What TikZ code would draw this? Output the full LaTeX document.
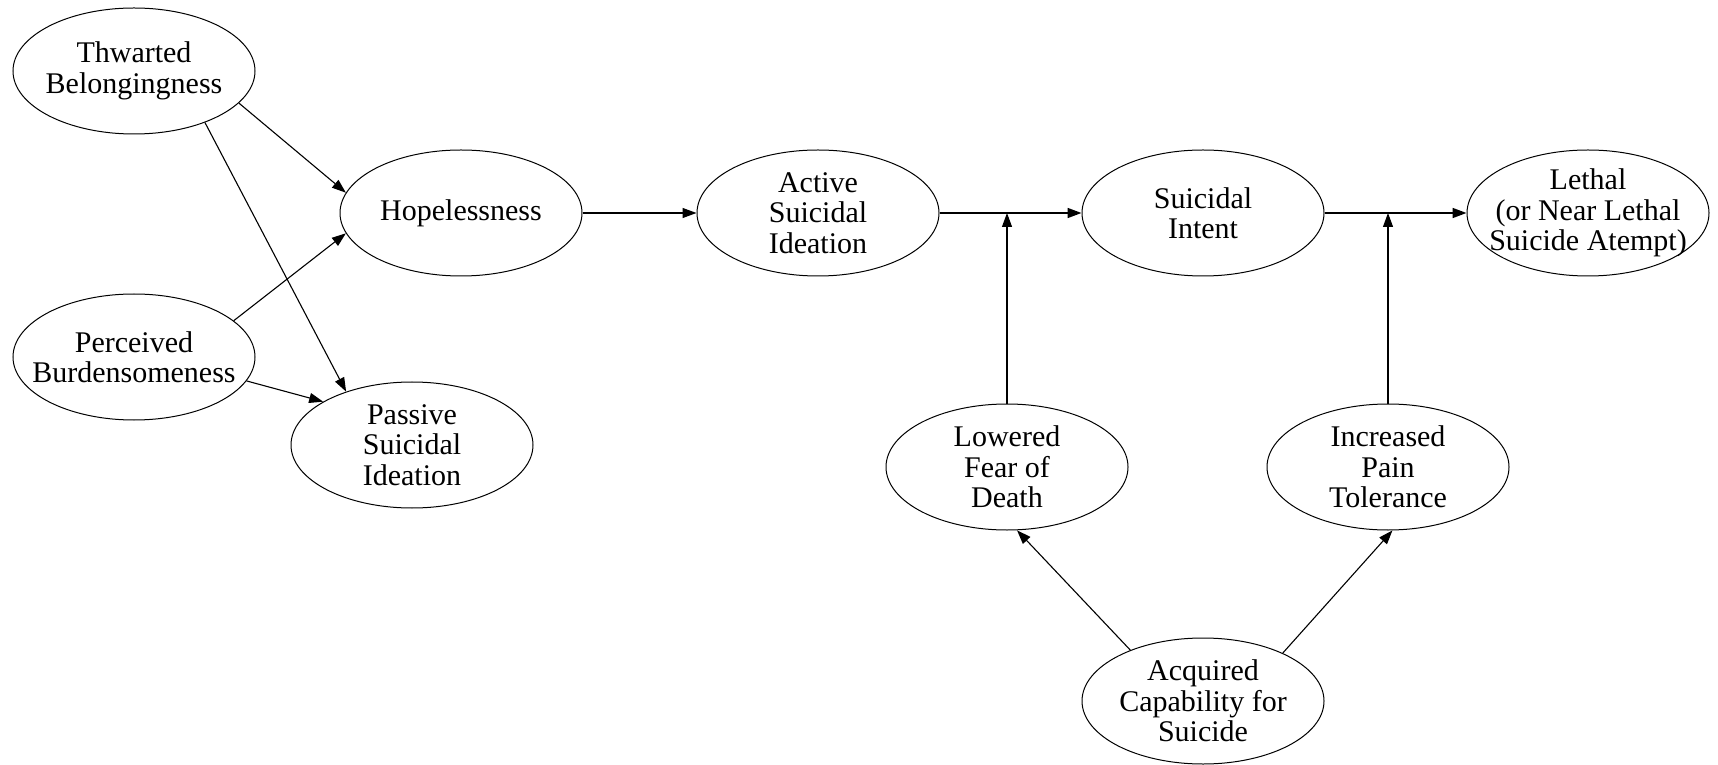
\documentclass[tikz,border=0pt]{standalone}
\usepackage{fontspec}
\setmainfont{Liberation Serif}
\usetikzlibrary{shapes.geometric,arrows.meta}

\begin{document}
\begin{tikzpicture}[x=1pt, y=1pt, ->, >={Triangle[length=14pt,width=10pt]}, line width=1.1pt,
  var/.style={ellipse, draw, line width=1pt, minimum width=242pt, minimum height=126pt,
    inner xsep=-30pt, inner ysep=-15pt, align=center, font=\fontsize{30}{30.5}\selectfont},
  heavy/.style={line width=1.7pt}]
\useasboundingbox (0,0) rectangle (1718,764);

\node[var] (thw) at (134,693) {Thwarted\\Belongingness};
\node[var] (per) at (134,407) {Perceived\\Burdensomeness};
\node[var] (hop) at (461,551) {Hopelessness};
\node[var] (pas) at (412,319) {Passive\\Suicidal\\Ideation};
\node[var] (act) at (818,551) {Active\\Suicidal\\Ideation};
\node[var] (int) at (1203,551) {Suicidal\\Intent};
\node[var] (let) at (1588,551) {Lethal\\(or Near Lethal\\Suicide Atempt)};
\node[var] (low) at (1007,297) {Lowered\\Fear of\\Death};
\node[var] (inc) at (1388,297) {Increased\\Pain\\Tolerance};
\node[var] (acq) at (1203,63) {Acquired\\Capability for\\Suicide};

% interpersonal constructs
\draw (thw.-17) -- (hop.170);
\draw (thw.-36) -- (pas.141);
\draw (per.20) -- (hop.-170);
\draw (per.-12) -- (pas.154);

% ideation to attempt
\draw (hop) -- (act);
\draw[heavy] (act) -- (int);
\draw[heavy] (int) -- (let);

% capability
\draw (acq.145) -- (low.-81);
\draw (acq.31) -- (inc.-86);
\draw (low.north) -- (low.north |- act.east);
\draw (inc.north) -- (inc.north |- int.east);
\end{tikzpicture}
\end{document}
